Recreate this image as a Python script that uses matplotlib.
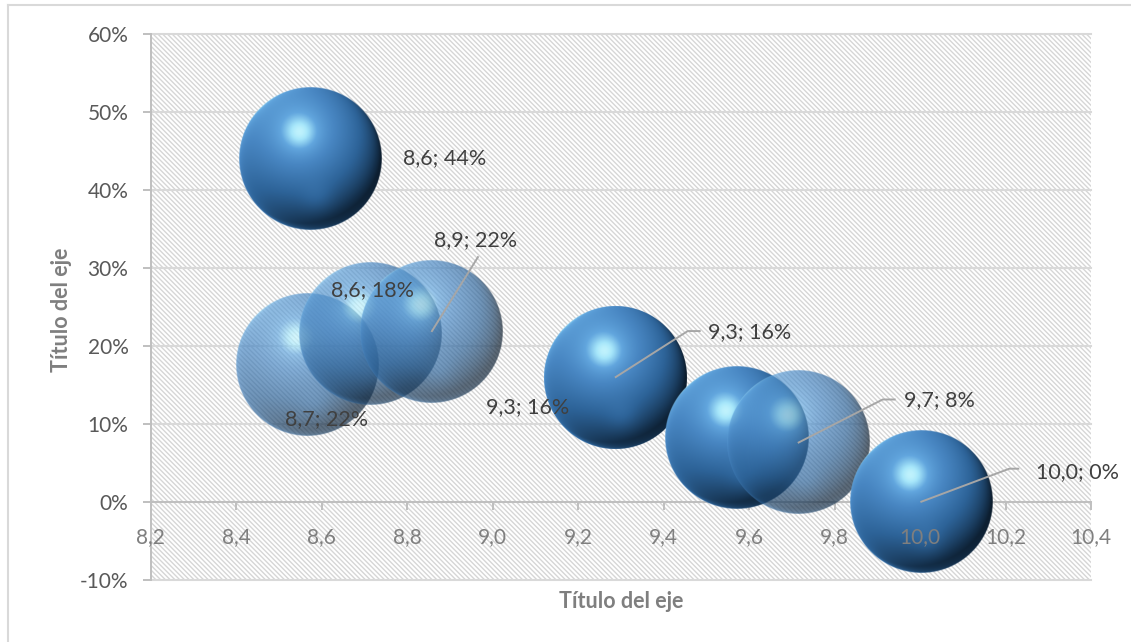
import numpy as np
import matplotlib
matplotlib.use("Agg")
import matplotlib.pyplot as plt
from matplotlib.colors import LinearSegmentedColormap
from matplotlib.lines import Line2D
from matplotlib.patches import Rectangle
from matplotlib.transforms import IdentityTransform
from matplotlib.ticker import FuncFormatter

# ---- data -------------------------------------------------------------
x_vals = [8.573, 8.568, 8.715, 8.858, 9.288, 9.288, 9.571, 9.716, 10.003]
y_vals = [0.4406, 0.176, 0.216, 0.219, 0.160, 0.160, 0.082, 0.076, 0.0]
bubble_sizes = [1, 1, 1, 1, 1, 1, 1, 1, 1]
x_ticks = [8.2, 8.4, 8.6, 8.8, 9.0, 9.2, 9.4, 9.6, 9.8, 10.0, 10.2, 10.4]
y_ticks = [-0.1, 0.0, 0.1, 0.2, 0.3, 0.4, 0.5, 0.6]
axis_title = "Título del eje"

# ---- per-bubble styling ------------------------------------------------
bubble_alpha = [1.0, 0.68, 0.68, 0.68, 1.0, 1.0, 1.0, 0.68, 1.0]
# label placement in pixel offsets from the bubble centre:
# (dx, dy, ha, leader polyline offsets or None); None = no label
label_style = [
    (93, 0, "left", None),
    (65, 75, "center", None),
    (-44, -86, "center", None),
    (44, 91, "center", [(0, 0), (46, 74)]),
    (92, 45, "left", [(0, 0), (72, 46), (84, 46)]),
    (-88, -30, "center", None),
    None,
    (105, 42, "left", [(0, 0), (84, 43), (96, 43)]),
    (115, 30, "left", [(0, 0), (88, 33), (97, 33)]),
]

FONT = "Lato"
plt.rcParams["font.family"] = [FONT, "DejaVu Sans"]
plt.rcParams["hatch.linewidth"] = 1.0
plt.rcParams["hatch.color"] = "#d6d6d6"

W, H = 1131, 642
fig = plt.figure(figsize=(W / 100, H / 100), dpi=100)
fig.patch.set_facecolor("white")

L, R, T, B = 150.7, 1091.0, 34.3, 579.6
ax = fig.add_axes([L / W, (H - B) / H, (R - L) / W, (B - T) / H])
ax.set_xlim(x_ticks[0], x_ticks[-1])
ax.set_ylim(y_ticks[0], y_ticks[-1])

# hatched plot area
ax.patch.set_visible(False)
ax.add_patch(Rectangle((0, 0), 1, 1, transform=ax.transAxes, facecolor="white",
                       edgecolor="#d6d6d6", hatch="\\" * 7, linewidth=0, zorder=0))

grid_col = "#d9d9d9"
axis_col = "#bfbfbf"
for s in ("top", "right"):
    ax.spines[s].set_visible(False)
ax.spines["left"].set_color(axis_col)
ax.spines["left"].set_linewidth(1.4)
ax.spines["bottom"].set_position(("data", 0))
ax.spines["bottom"].set_color(axis_col)
ax.spines["bottom"].set_linewidth(1.4)
ax.spines["bottom"].set_zorder(1)
ax.spines["left"].set_zorder(1)

ax.set_yticks(y_ticks)
ax.yaxis.set_major_formatter(FuncFormatter(lambda v, p: f"{v * 100:.0f}%"))
ax.tick_params(axis="y", direction="out", length=6, width=1.4, color=axis_col,
               labelsize=15, labelcolor="#595959", pad=10)
ax.yaxis.grid(True, color=grid_col, linewidth=1.5, zorder=0.5)
ax.set_axisbelow(True)
for gl in ax.get_ygridlines():
    gl.set_clip_on(False)

ax.set_xticks(x_ticks)
ax.xaxis.set_major_formatter(FuncFormatter(lambda v, p: f"{v:.1f}".replace(".", ",")))
ax.tick_params(axis="x", length=0, labelsize=15, labelcolor="#7f7f7f", pad=18)
ax.xaxis.set_zorder(6)
# tick marks below the horizontal axis line
ax.plot(x_ticks, [0] * len(x_ticks), ls="none", marker=3, ms=6, mew=1.4,
        color=axis_col, zorder=1, clip_on=False)

# ---- sphere-shaded bubbles --------------------------------------------
cmap = LinearSegmentedColormap.from_list("sphere", [
    (0.00, "#07111b"), (0.20, "#14304c"), (0.45, "#2d6398"),
    (0.65, "#4886c2"), (0.80, "#62a6de"), (0.92, "#a6e6fa"), (1.00, "#d4fcff")])


def sphere_rgba(n=301, alpha=1.0):
    c = np.linspace(-1, 1, n)
    u, v = np.meshgrid(c, -c)
    rr = u ** 2 + v ** 2
    z = np.sqrt(np.clip(1 - rr, 0, 1))
    l1 = np.array([-0.18, 0.42, 0.89]); l1 /= np.linalg.norm(l1)
    d1 = np.clip(u * l1[0] + v * l1[1] + z * l1[2], 0, 1)
    rim = (1 - z) ** 2 * np.clip(0.6 - 0.6 * u, 0, 1) * 0.55
    inten = 0.08 + 0.60 * d1 + rim
    hd = (u + 0.15) ** 2 + (v - 0.37) ** 2
    inten += 0.17 * np.exp(-hd / (2 * 0.16 ** 2)) + 0.11 * np.exp(-hd / (2 * 0.34 ** 2))
    inten += 0.07 * np.exp(-((u - 0.1) ** 2 + (v + 0.55) ** 2) / (2 * 0.16 ** 2))
    rgba = cmap(np.clip(inten, 0, 1))
    edge = np.clip((1 - np.sqrt(rr)) * n / 2 + 0.5, 0, 1)
    rgba[..., 3] = edge * alpha
    return rgba


fig.canvas.draw()
ppx = (R - L) / (x_ticks[-1] - x_ticks[0])
ppy = (B - T) / (y_ticks[-1] - y_ticks[0])
r_base = 71.5
smax = max(bubble_sizes)
for i, (x, y, s) in enumerate(zip(x_vals, y_vals, bubble_sizes)):
    r = r_base * np.sqrt(s / smax)
    rx, ry = r / ppx, r / ppy
    ax.imshow(sphere_rgba(alpha=bubble_alpha[i]), extent=[x - rx, x + rx, y - ry, y + ry],
              aspect="auto", interpolation="bilinear", zorder=3 + i * 0.01)
ax.set_xlim(x_ticks[0], x_ticks[-1])
ax.set_ylim(y_ticks[0], y_ticks[-1])

# ---- data labels -------------------------------------------------------
fig.canvas.draw()
for i, (x, y) in enumerate(zip(x_vals, y_vals)):
    st = label_style[i]
    if st is None:
        continue
    dx, dy, ha, leader = st
    txt = f"{x:.1f}".replace(".", ",") + "; " + f"{y * 100:.0f}%"
    ax.annotate(txt, xy=(x, y), xytext=(dx, dy), textcoords="offset pixels",
                ha=ha, va="center", fontsize=15.5, color="#404040", zorder=8,
                annotation_clip=False)
    if leader:
        px, py = ax.transData.transform((x, y))
        fig.add_artist(Line2D([px + a for a, b in leader], [py + b for a, b in leader],
                              transform=IdentityTransform(), color="#a6a6a6",
                              linewidth=1.4, zorder=7))

# ---- axis titles -------------------------------------------------------
fig.text(621 / W, 1 - 601 / H, axis_title, ha="center", va="center",
         fontsize=15.5, fontweight="bold", color="#7f7f7f")
fig.text(61 / W, 1 - 310 / H, axis_title, ha="center", va="center", rotation=90,
         fontsize=15.5, fontweight="bold", color="#7f7f7f")

# chart frame (top and left edges)
fig.add_artist(Line2D([8 / W, 8 / W], [0, 1 - 5 / H], transform=fig.transFigure,
                      color="#d9d9d9", linewidth=1.5))
fig.add_artist(Line2D([8 / W, 1], [1 - 5 / H, 1 - 5 / H], transform=fig.transFigure,
                      color="#d9d9d9", linewidth=1.5))

fig.savefig("out.png", dpi=100, facecolor="white")
